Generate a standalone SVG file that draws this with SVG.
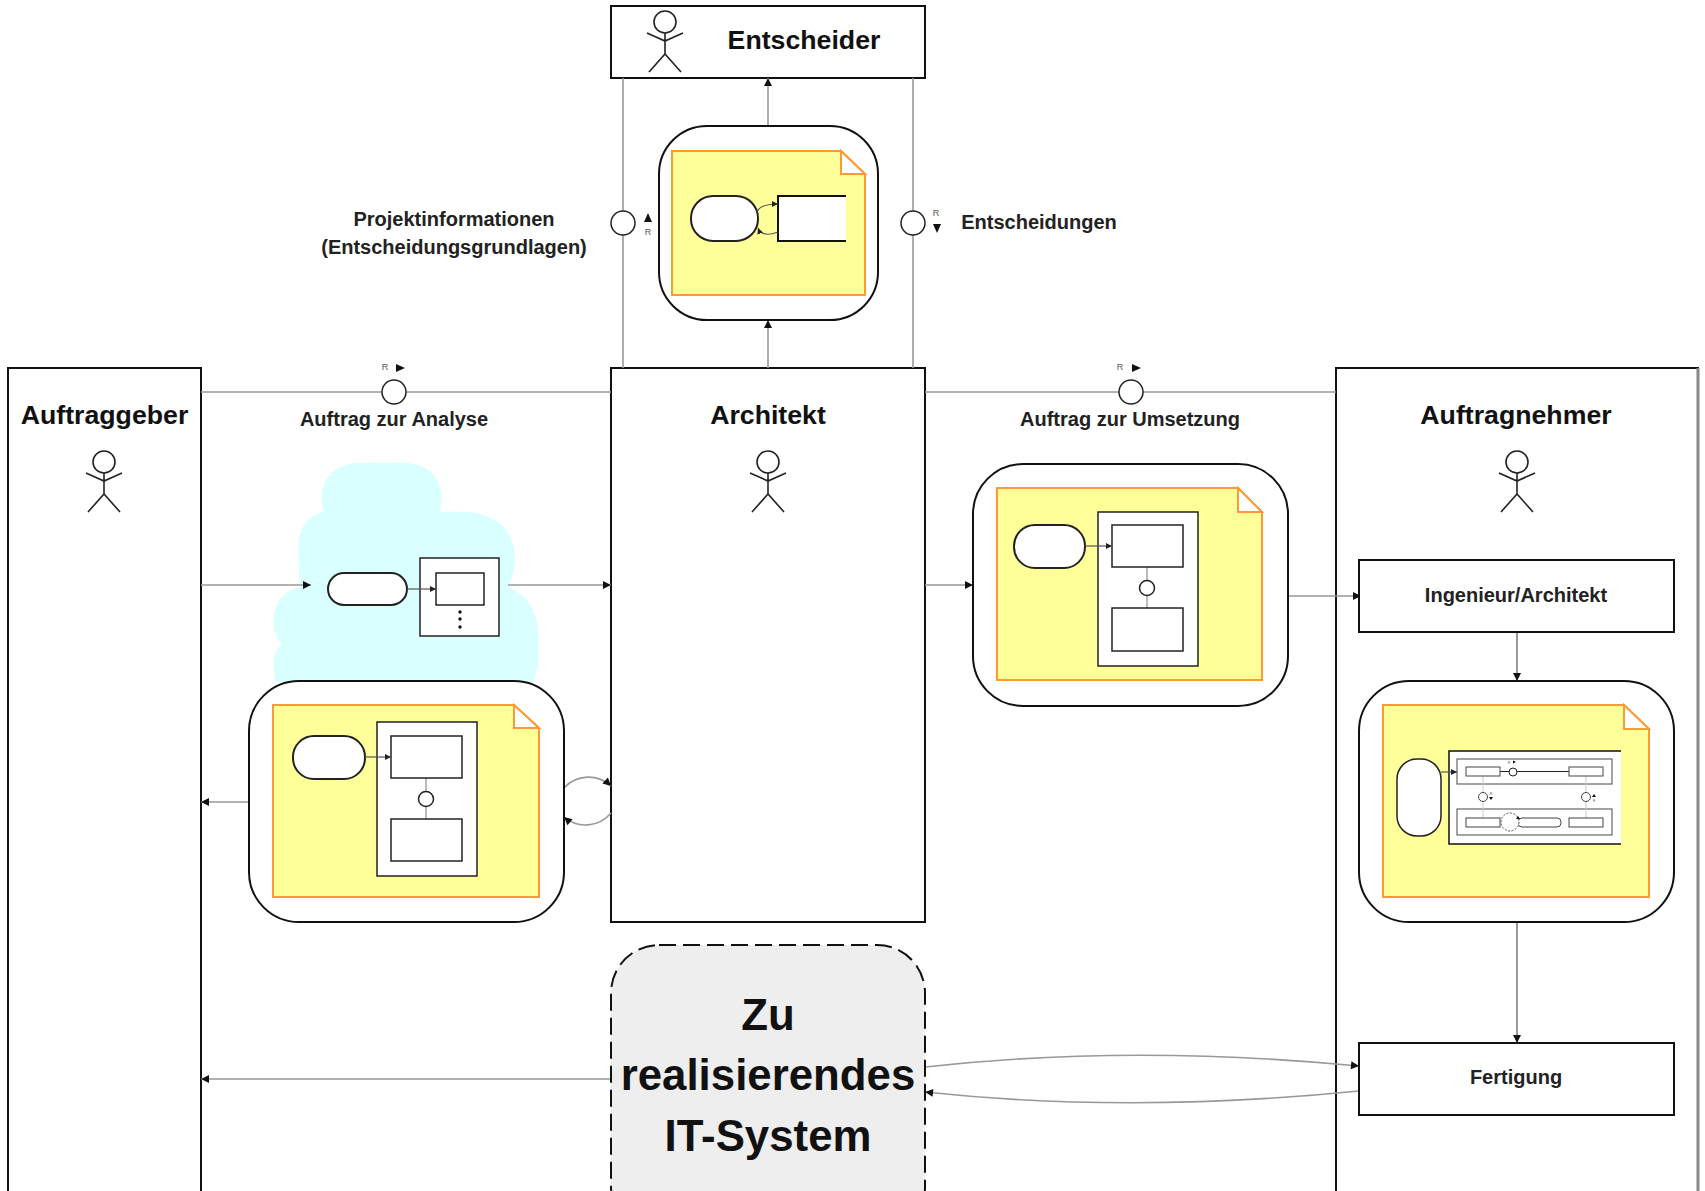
<svg xmlns="http://www.w3.org/2000/svg" width="1705" height="1191" viewBox="0 0 1705 1191">
<style>
text{font-family:"Liberation Sans",Arial,sans-serif;text-anchor:middle;fill:#111}
.title{font-size:26.7px;font-weight:bold}
.label{font-size:20px;font-weight:bold;fill:#222}
.r{font-size:9px;fill:#555}
.tiny{font-size:3px;fill:#555}
.box{fill:#fff;stroke:#111;stroke-width:2}
.thin{fill:#fff;stroke:#222;stroke-width:1.5}
.note{fill:#ffff99;stroke:#ff9933;stroke-width:2}
.fold{fill:#fff;stroke:#ff9933;stroke-width:2}
.pill{fill:#fff;stroke:#222;stroke-width:2}
.actor{fill:none;stroke:#222;stroke-width:1.6}
.con{fill:none;stroke:#999;stroke-width:1.6}
.dark{fill:none;stroke:#555;stroke-width:1.2}
.mini{fill:none;stroke:#bbb;stroke-width:2}
.arr{marker-end:url(#a)}
.sarr{marker-end:url(#s)}
.tri{fill:#111}
</style>
<defs>
<marker id="a" markerUnits="userSpaceOnUse" markerWidth="10" markerHeight="10" refX="9" refY="5" orient="auto"><path d="M1 1L9 5L1 9Z" fill="#111"/></marker>
<marker id="s" markerUnits="userSpaceOnUse" markerWidth="7" markerHeight="7" refX="6" refY="3.5" orient="auto"><path d="M0 .5L6 3.5L0 6.5Z" fill="#222"/></marker>
<g id="actor"><ellipse cx="0" cy="-11" rx="11" ry="11" class="actor"/><path class="actor" d="M0 0V21M-18 0L0 8L18 0M-16 39L0 21L16 39"/></g>
</defs>
<rect width="1705" height="1191" fill="#fff"/>

<path id="cloud" transform="translate(240 450) scale(.3333)" fill="#d9ffff" d="M350 38H500Q605 50 605 150L600 185H680Q825 200 825 330Q820 390 805 410Q895 450 895 560V620Q895 660 880 695H105Q100 650 100 640Q100 610 125 580Q100 560 100 510Q105 430 180 410Q175 350 175 280Q180 205 250 185Q245 170 245 140Q250 50 350 38Z"/>

<g id="lane-auftraggeber"><rect class="box" x="8" y="368" width="193" height="840"/><text class="title" x="104.500" y="424">Auftraggeber</text><use href="#actor" x="104" y="473"/></g>
<g id="lane-architekt"><rect class="box" x="611" y="368" width="314" height="554"/><text class="title" x="768" y="424">Architekt</text><use href="#actor" x="768" y="473"/></g>
<g id="lane-auftragnehmer"><rect class="box" x="1336" y="368" width="362" height="840"/><path d="M1698 368V1191" stroke="#888" stroke-width="3"/><text class="title" x="1516" y="424">Auftragnehmer</text><use href="#actor" x="1517" y="473"/></g>
<g id="entscheider"><rect class="box" x="611" y="6" width="314" height="72"/><use href="#actor" x="665" y="33"/><text class="title" x="804" y="49">Entscheider</text></g>

<g id="connectors">
<path class="con" d="M623 78V368M913 78V368M201 392H611M925 392H1336"/>
<path class="con arr" d="M768 126V78"/>
<path class="con arr" d="M768 368V320"/>
<path class="con arr" d="M201 585H311"/>
<path class="con arr" d="M508 585H611"/>
<path class="con arr" d="M925 585H973"/>
<path class="con arr" d="M1288 596H1361"/>
<path class="con arr" d="M249 802H201"/>
<path class="con arr" d="M564 788A33 33 0 0 1 611 786"/>
<path class="con arr" d="M611 813A33 33 0 0 1 564 817"/>
<path class="dark arr" d="M1517 632V681"/>
<path class="dark arr" d="M1517 922V1043"/>
<path class="con arr" d="M611 1079H201"/>
<path class="con arr" d="M925 1067Q1130 1044 1359 1066"/>
<path class="con arr" d="M1359 1091Q1130 1114 925 1092"/>
</g>

<g id="port-projektinformationen"><circle class="thin" cx="623" cy="223" r="12"/><path class="tri" d="M648 213L652 222H644Z"/><text class="r" x="648" y="235">R</text><text class="label" x="454" y="226">Projektinformationen</text><text class="label" x="454" y="254">(Entscheidungsgrundlagen)</text></g>
<g id="port-entscheidungen"><circle class="thin" cx="913" cy="223" r="12"/><text class="r" x="936" y="216">R</text><path class="tri" d="M937 233L933 224H941Z"/><text class="label" x="1039" y="229">Entscheidungen</text></g>
<g id="port-analyse"><circle class="thin" cx="394" cy="392" r="12"/><text class="r" x="385" y="370">R</text><path class="tri" d="M405 368L396 364V372Z"/><text class="label" x="394" y="426">Auftrag zur Analyse</text></g>
<g id="port-umsetzung"><circle class="thin" cx="1131" cy="392" r="12"/><text class="r" x="1120" y="370">R</text><path class="tri" d="M1141 368L1132 364V372Z"/><text class="label" x="1130" y="426">Auftrag zur Umsetzung</text></g>

<g id="view-entscheider">
<rect class="box" x="659" y="126" width="219" height="194" rx="48"/>
<path class="note" d="M672 151H841L865 174V295H672Z"/><path class="fold" d="M841 151L865 174H841Z"/>
<rect class="pill" x="691" y="196" width="67" height="45" rx="22"/>
<path d="M846 196H778V241H846" fill="#fff" stroke="#111" stroke-width="2"/><rect x="779" y="197" width="67" height="43" fill="#fff"/>
<path class="dark sarr" d="M757 212Q760 204 778 204"/><path class="dark sarr" d="M778 232Q762 238 758 228"/>
</g>

<g id="cloud-content">
<rect class="pill" x="328" y="573" width="79" height="32" rx="16"/>
<rect class="thin" x="420" y="558" width="79" height="78"/>
<rect class="thin" x="436" y="573" width="48" height="32"/>
<circle cx="460" cy="612" r="1.700" fill="#111"/><circle cx="460" cy="619" r="1.700" fill="#111"/><circle cx="460" cy="627" r="1.700" fill="#111"/>
<path class="dark sarr" d="M407 589H436"/>
</g>

<g id="view-analyse">
<rect class="box" x="249" y="681" width="315" height="241" rx="50"/>
<path class="note" d="M273 705H514L539 728V897H273Z"/><path class="fold" d="M514 705L539 728H514Z"/>
<rect class="thin" x="377" y="722" width="100" height="154"/>
<path d="M426 778V819" class="mini"/>
<rect class="thin" x="391" y="736" width="71" height="42"/><rect class="thin" x="391" y="819" width="71" height="42"/>
<circle class="thin" cx="426" cy="799" r="7.500"/>
<rect class="pill" x="293" y="736" width="72" height="43" rx="21"/>
<path class="dark sarr" d="M365 757H391"/>
</g>

<g id="view-umsetzung">
<rect class="box" x="973" y="464" width="315" height="242" rx="50"/>
<path class="note" d="M997 488H1238L1262 512V680H997Z"/><path class="fold" d="M1238 488L1262 512H1238Z"/>
<rect class="thin" x="1098" y="512" width="100" height="154"/>
<path d="M1147 567V608" class="mini"/>
<rect class="thin" x="1112" y="525" width="71" height="42"/><rect class="thin" x="1112" y="608" width="71" height="43"/>
<circle class="thin" cx="1147" cy="588" r="7.500"/>
<rect class="pill" x="1014" y="525" width="71" height="43" rx="21"/>
<path class="dark sarr" d="M1085 546H1112"/>
</g>

<g id="ingenieur"><rect class="box" x="1359" y="560" width="315" height="72"/><text class="label" x="1516" y="602">Ingenieur/Architekt</text></g>

<g id="view-auftragnehmer">
<rect class="box" x="1359" y="681" width="315" height="241" rx="50"/>
<path class="note" d="M1383 705H1624L1649 729V897H1383Z"/><path class="fold" d="M1624 705L1649 729H1624Z"/>
<rect x="1449" y="751" width="172" height="93" fill="#fff"/><path d="M1621 751H1449V844H1621" fill="none" stroke="#111" stroke-width="1.500"/>
<rect x="1457" y="759" width="155" height="25" fill="#fff" stroke="#666" stroke-width="1.200"/>
<rect x="1457" y="809" width="155" height="26" fill="#fff" stroke="#666" stroke-width="1.200"/>
<path d="M1483 776V818M1586 776V818" stroke="#ccc" stroke-width="1" fill="none"/>
<path d="M1500 771.500H1569" stroke="#222" stroke-width="1" fill="none"/>
<rect x="1466" y="767" width="34" height="9" fill="#fff" stroke="#444"/>
<rect x="1569" y="767" width="34" height="9" fill="#fff" stroke="#444"/>
<rect x="1466" y="818" width="34" height="9" fill="#fff" stroke="#444"/>
<rect x="1518" y="818" width="43" height="9" rx="4" fill="#fff" stroke="#444"/>
<rect x="1569" y="818" width="34" height="9" fill="#fff" stroke="#444"/>
<circle cx="1513" cy="772" r="4" fill="#fff" stroke="#222"/><circle cx="1483" cy="797" r="4.500" fill="#fff" stroke="#444"/><circle cx="1586" cy="797" r="4.500" fill="#fff" stroke="#444"/>
<circle cx="1510" cy="822" r="9" fill="#fff" stroke="#555" stroke-dasharray="2 1.500"/>
<text class="tiny" x="1509" y="764">R</text><text class="tiny" x="1491" y="795">R</text><text class="tiny" x="1594" y="802">R</text>
<path class="tri" d="M1516 762L1513 760.500V763.500ZM1491 800L1489 797H1493ZM1594 794L1592 797H1596ZM1518 816L1516 819H1520Z"/>
<rect x="1397" y="759" width="44" height="77" rx="20" fill="#fff" stroke="#222" stroke-width="1.500"/>
<path class="dark sarr" d="M1441 772H1457"/>
</g>

<g id="fertigung"><rect class="box" x="1359" y="1043" width="315" height="72"/><text class="label" x="1516" y="1084">Fertigung</text></g>

<g id="it-system">
<rect x="611" y="945" width="314" height="290" rx="48" fill="#eee" stroke="#111" stroke-width="2" stroke-dasharray="17 7"/>
<text x="768" y="1030" font-size="43.800" font-weight="bold">Zu</text>
<text x="768" y="1090" font-size="43.800" font-weight="bold">realisierendes</text>
<text x="768" y="1151" font-size="43.800" font-weight="bold">IT-System</text>
</g>
</svg>
